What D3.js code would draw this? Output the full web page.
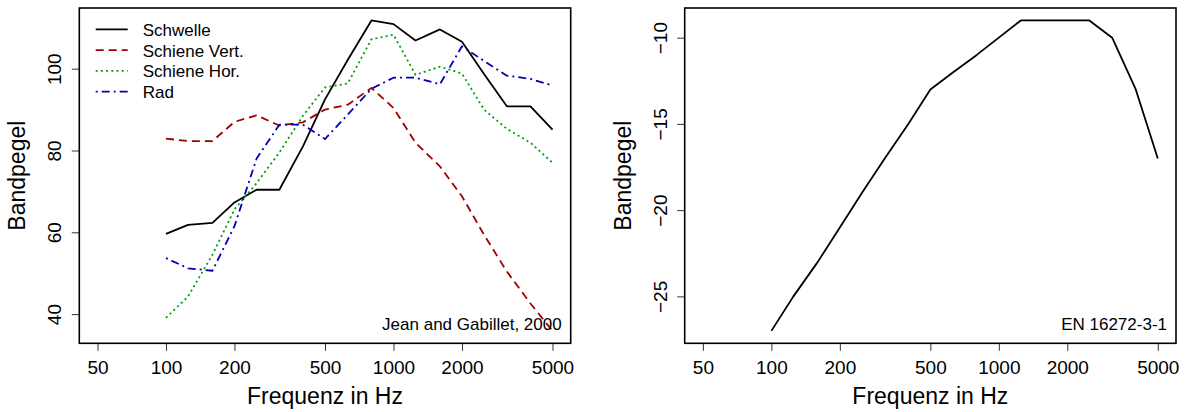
<!DOCTYPE html>
<html>
<head>
<meta charset="utf-8">
<title>Bandpegel</title>
<script src="https://d3js.org/d3.v7.min.js"></script>
<style>
  body { margin: 0; background: #fff; font-family: "Liberation Sans", Arial, sans-serif; }
  svg text { fill: #000; }
</style>
</head>
<body>
<div id="chart"></div>
<script>
// third-octave band centre frequencies
const freqs = [100, 125, 160, 200, 250, 315, 400, 500, 630, 800, 1000, 1250, 1600, 2000, 2500, 3150, 4000, 5000];

// left panel (Jean and Gabillet, 2000)
const schwelle    = [59.6, 61.8, 62.3, 67.3, 70.4, 70.4, 81.0, 92.5, 102.2, 111.8, 110.9, 106.9, 109.6, 106.6, 98.7, 90.8, 90.8, 85.1];
const schieneVert = [82.9, 82.3, 82.3, 87.0, 88.6, 86.1, 86.9, 90.0, 91.2, 95.3, 90.4, 81.9, 76.1, 68.8, 59.4, 50.4, 42.6, 35.9];
const schieneHor  = [39.1, 44.3, 54.5, 65.6, 72.0, 79.5, 88.5, 95.4, 96.4, 107.2, 108.3, 98.5, 100.5, 98.8, 90.0, 85.3, 81.9, 77.0];
const rad         = [53.7, 51.2, 50.6, 61.5, 78.0, 86.3, 86.3, 82.8, 88.8, 95.1, 97.8, 97.8, 96.2, 105.5, 101.9, 98.3, 97.5, 95.9];
const seriesNames = ["Schwelle", "Schiene Vert.", "Schiene Hor.", "Rad"];

// right panel (EN 16272-3-1)
const enSpectrum = [-27, -25, -23, -21, -19, -17, -15, -13, -12, -11, -10, -9, -9, -9, -9, -10, -13, -17];

const xTicks = [50, 100, 200, 500, 1000, 2000, 5000];
const xLimits = [50, 5000];
const yTicksLeft = [40, 60, 80, 100];
const yTicksRight = [-25, -20, -15, -10];

const styles = [
    { color: "#000000", dash: null },
    { color: "#A00000", dash: "8,5" },
    { color: "#00A000", dash: "2,3.2" },
    { color: "#0000B4", dash: "2,4,8,4" }
];

const W = 1191, H = 412;
const svg = d3.select("#chart").append("svg")
    .attr("width", W)
    .attr("height", H);

// R style 4% axis expansion
function expand(lo, hi) {
    const d = (hi - lo) * 0.04;
    return [lo - d, hi + d];
}

function drawPanel(box, seriesList, yTicks, note) {
    const lx = expand(Math.log10(xLimits[0]), Math.log10(xLimits[1]));
    const x = d3.scaleLog()
        .domain([Math.pow(10, lx[0]), Math.pow(10, lx[1])])
        .range([box.left, box.right]);

    const all = seriesList.flatMap(s => s.values);
    const y = d3.scaleLinear()
        .domain(expand(d3.min(all), d3.max(all)))
        .range([box.bottom, box.top]);

    const g = svg.append("g");

    // x axis
    const xa = g.append("g")
        .attr("transform", `translate(0,${box.bottom})`)
        .call(d3.axisBottom(x).tickValues(xTicks).tickFormat(d3.format("d")).tickSize(7.5).tickPadding(5));
    xa.select(".domain").remove();
    xa.selectAll(".tick line").attr("stroke", "#333").attr("stroke-width", 1);
    xa.selectAll(".tick text")
        .attr("font-size", 19)
        .attr("font-family", "Liberation Sans, Arial, sans-serif")
        .attr("dy", null)
        .attr("y", 30.5);

    // y axis
    const ya = g.append("g")
        .attr("transform", `translate(${box.left},0)`)
        .call(d3.axisLeft(y).tickValues(yTicks).tickSize(7.5));
    ya.select(".domain").remove();
    ya.selectAll(".tick line").attr("stroke", "#333").attr("stroke-width", 1);
    ya.selectAll(".tick text")
        .attr("font-size", 19)
        .attr("font-family", "Liberation Sans, Arial, sans-serif")
        .attr("x", null)
        .attr("dy", null)
        .attr("text-anchor", "middle")
        .attr("transform", "translate(-18,0) rotate(-90)");

    // lines
    const line = d3.line()
        .x((d, i) => x(freqs[i]))
        .y(d => y(d));
    seriesList.forEach(s => {
        g.append("path")
            .datum(s.values)
            .attr("fill", "none")
            .attr("stroke", s.style.color)
            .attr("stroke-width", 1.8)
            .attr("stroke-linejoin", "round")
            .attr("stroke-dasharray", s.style.dash)
            .attr("d", line);
    });

    // box
    g.append("rect")
        .attr("x", box.left)
        .attr("y", box.top)
        .attr("width", box.right - box.left)
        .attr("height", box.bottom - box.top)
        .attr("fill", "none")
        .attr("stroke", "#000")
        .attr("stroke-width", 1.6);

    // axis titles
    g.append("text")
        .attr("x", (box.left + box.right) / 2)
        .attr("y", 404)
        .attr("text-anchor", "middle")
        .attr("font-size", 23)
        .text("Frequenz in Hz");
    g.append("text")
        .attr("transform", `translate(${box.left - 54},${(box.top + box.bottom) / 2}) rotate(-90)`)
        .attr("text-anchor", "middle")
        .attr("font-size", 23)
        .text("Bandpegel");

    // source note
    g.append("text")
        .attr("x", box.right - 9)
        .attr("y", box.bottom - 13.5)
        .attr("text-anchor", "end")
        .attr("font-size", 17)
        .text(note);

    return g;
}

const left = drawPanel(
    { left: 79.3, right: 570.7, top: 8, bottom: 343.3 },
    [schwelle, schieneVert, schieneHor, rad].map((v, i) => ({ values: v, style: styles[i] })),
    yTicksLeft,
    "Jean and Gabillet, 2000"
);

drawPanel(
    { left: 684.7, right: 1176, top: 8, bottom: 343.3 },
    [{ values: enSpectrum, style: styles[0] }],
    yTicksRight,
    "EN 16272-3-1"
);

// legend, top left of left panel
const legend = left.append("g").attr("transform", "translate(95.7,29.3)");
seriesNames.forEach((name, i) => {
    const row = legend.append("g").attr("transform", `translate(0,${i * 20.8})`);
    row.append("line")
        .attr("x1", 0).attr("x2", 32)
        .attr("stroke", styles[i].color)
        .attr("stroke-width", 1.8)
        .attr("stroke-dasharray", styles[i].dash);
    row.append("text")
        .attr("x", 47)
        .attr("y", 6.5)
        .attr("font-size", 17)
        .text(name);
});
</script>
</body>
</html>
